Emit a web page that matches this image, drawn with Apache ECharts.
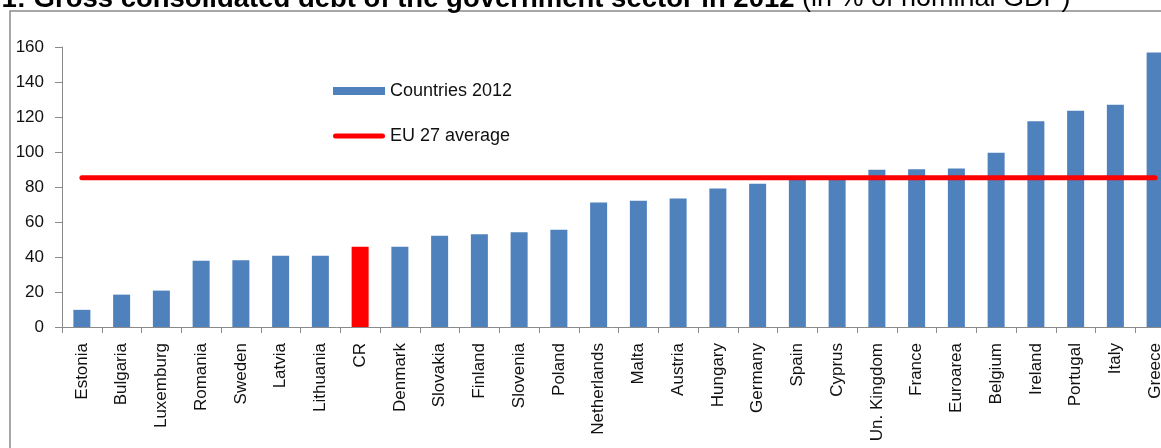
<!DOCTYPE html>
<html lang="en">
<head>
    <meta charset="UTF-8">
    <title>Gross consolidated debt 2012</title>
    <style>
        html, body { margin: 0; padding: 0; background: #fff; }
        #chart1 { width: 1161px; height: 448px; }
    </style>
</head>
<body>
<script src="https://cdn.jsdelivr.net/npm/echarts@6/dist/echarts.min.js"></script>
<div id="chart1"></div>
<script type="text/javascript">
    // data (% of nominal GDP)
    var countries = ['Estonia', 'Bulgaria', 'Luxemburg', 'Romania', 'Sweden', 'Latvia', 'Lithuania', 'CR',
        'Denmark', 'Slovakia', 'Finland', 'Slovenia', 'Poland', 'Netherlands', 'Malta', 'Austria',
        'Hungary', 'Germany', 'Spain', 'Cyprus', 'Un. Kingdom', 'France', 'Euroarea', 'Belgium',
        'Ireland', 'Portugal', 'Italy', 'Greece'];
    var debt = [9.8, 18.5, 20.8, 37.9, 38.2, 40.7, 40.7, 45.8,
        45.8, 52.1, 53.0, 54.1, 55.6, 71.2, 72.1, 73.4,
        79.2, 81.9, 84.2, 85.8, 89.8, 90.2, 90.6, 99.6,
        117.6, 123.6, 127.0, 156.9];
    var euAverage = 85.3;
    var yTicks = [0, 20, 40, 60, 80, 100, 120, 140, 160];

    var font = 'Liberation Sans, Arial, sans-serif';
    var axisGrey = '#8a8a8a';

    var barData = debt.map(function (v, i) {
        if (countries[i] === 'CR') {
            return { value: v, itemStyle: { color: '#FF0000' } };
        }
        return v;
    });

    var myChart1 = echarts.init(document.getElementById('chart1'));
    myChart1.setOption({
        animation: false,
        textStyle: { fontFamily: font },
        graphic: [
            {
                type: 'rect',
                shape: { x: 10, y: 11, width: 1300, height: 600 },
                style: { fill: 'none', stroke: axisGrey, lineWidth: 1.5 },
                silent: true
            },
            {
                type: 'text', x: -78, y: -1,
                style: {
                    text: 'Chart 1: Gross consolidated debt of the government sector in 2012',
                    font: 'bold 27.5px ' + font, fill: '#000', verticalAlign: 'middle'
                }
            },
            {
                type: 'text', x: 802, y: -1,
                style: {
                    text: '(in % of nominal GDP)',
                    font: '27px ' + font, fill: '#000', verticalAlign: 'middle'
                }
            }
        ],
        legend: {
            orient: 'vertical',
            left: 333,
            top: 82,
            padding: 0,
            itemWidth: 52,
            itemHeight: 8,
            itemGap: 27,
            textStyle: { fontSize: 18, color: '#111', fontFamily: font },
            data: [
                { name: 'Countries 2012', icon: 'rect' },
                {
                    name: 'EU 27 average',
                    icon: 'path://M2.5,0 H49.5 A2.5,2.5 0 0 1 49.5,5 H2.5 A2.5,2.5 0 0 1 2.5,0 Z',
                    itemStyle: { color: '#FF0000' }
                }
            ]
        },
        grid: {
            left: 62,
            top: 47,
            bottom: 121,
            width: 1113,
            outerBoundsMode: 'none',
            containLabel: false
        },
        xAxis: {
            type: 'category',
            data: countries,
            axisLine: { lineStyle: { color: axisGrey, width: 1 } },
            axisTick: { show: true, length: 6, interval: 0, lineStyle: { color: axisGrey } },
            axisLabel: {
                interval: 0, rotate: 90, margin: 16,
                fontSize: 17, color: '#111', fontFamily: font
            }
        },
        yAxis: {
            type: 'value',
            min: yTicks[0],
            max: yTicks[yTicks.length - 1],
            interval: yTicks[1] - yTicks[0],
            splitLine: { show: false },
            axisLine: { show: true, lineStyle: { color: axisGrey, width: 1 } },
            axisTick: { show: true, length: 7, lineStyle: { color: axisGrey } },
            axisLabel: { margin: 18, fontSize: 17, color: '#111', fontFamily: font }
        },
        series: [
            {
                name: 'Countries 2012',
                type: 'bar',
                data: barData,
                barWidth: 17,
                itemStyle: { color: '#4F81BD' }
            },
            {
                name: 'EU 27 average',
                type: 'line',
                data: [[countries[0], euAverage], [countries[countries.length - 1], euAverage]],
                symbol: 'none',
                z: 5,
                lineStyle: { color: '#FF0000', width: 5, cap: 'round' },
                itemStyle: { color: '#FF0000' }
            }
        ]
    });
</script>
</body>
</html>
